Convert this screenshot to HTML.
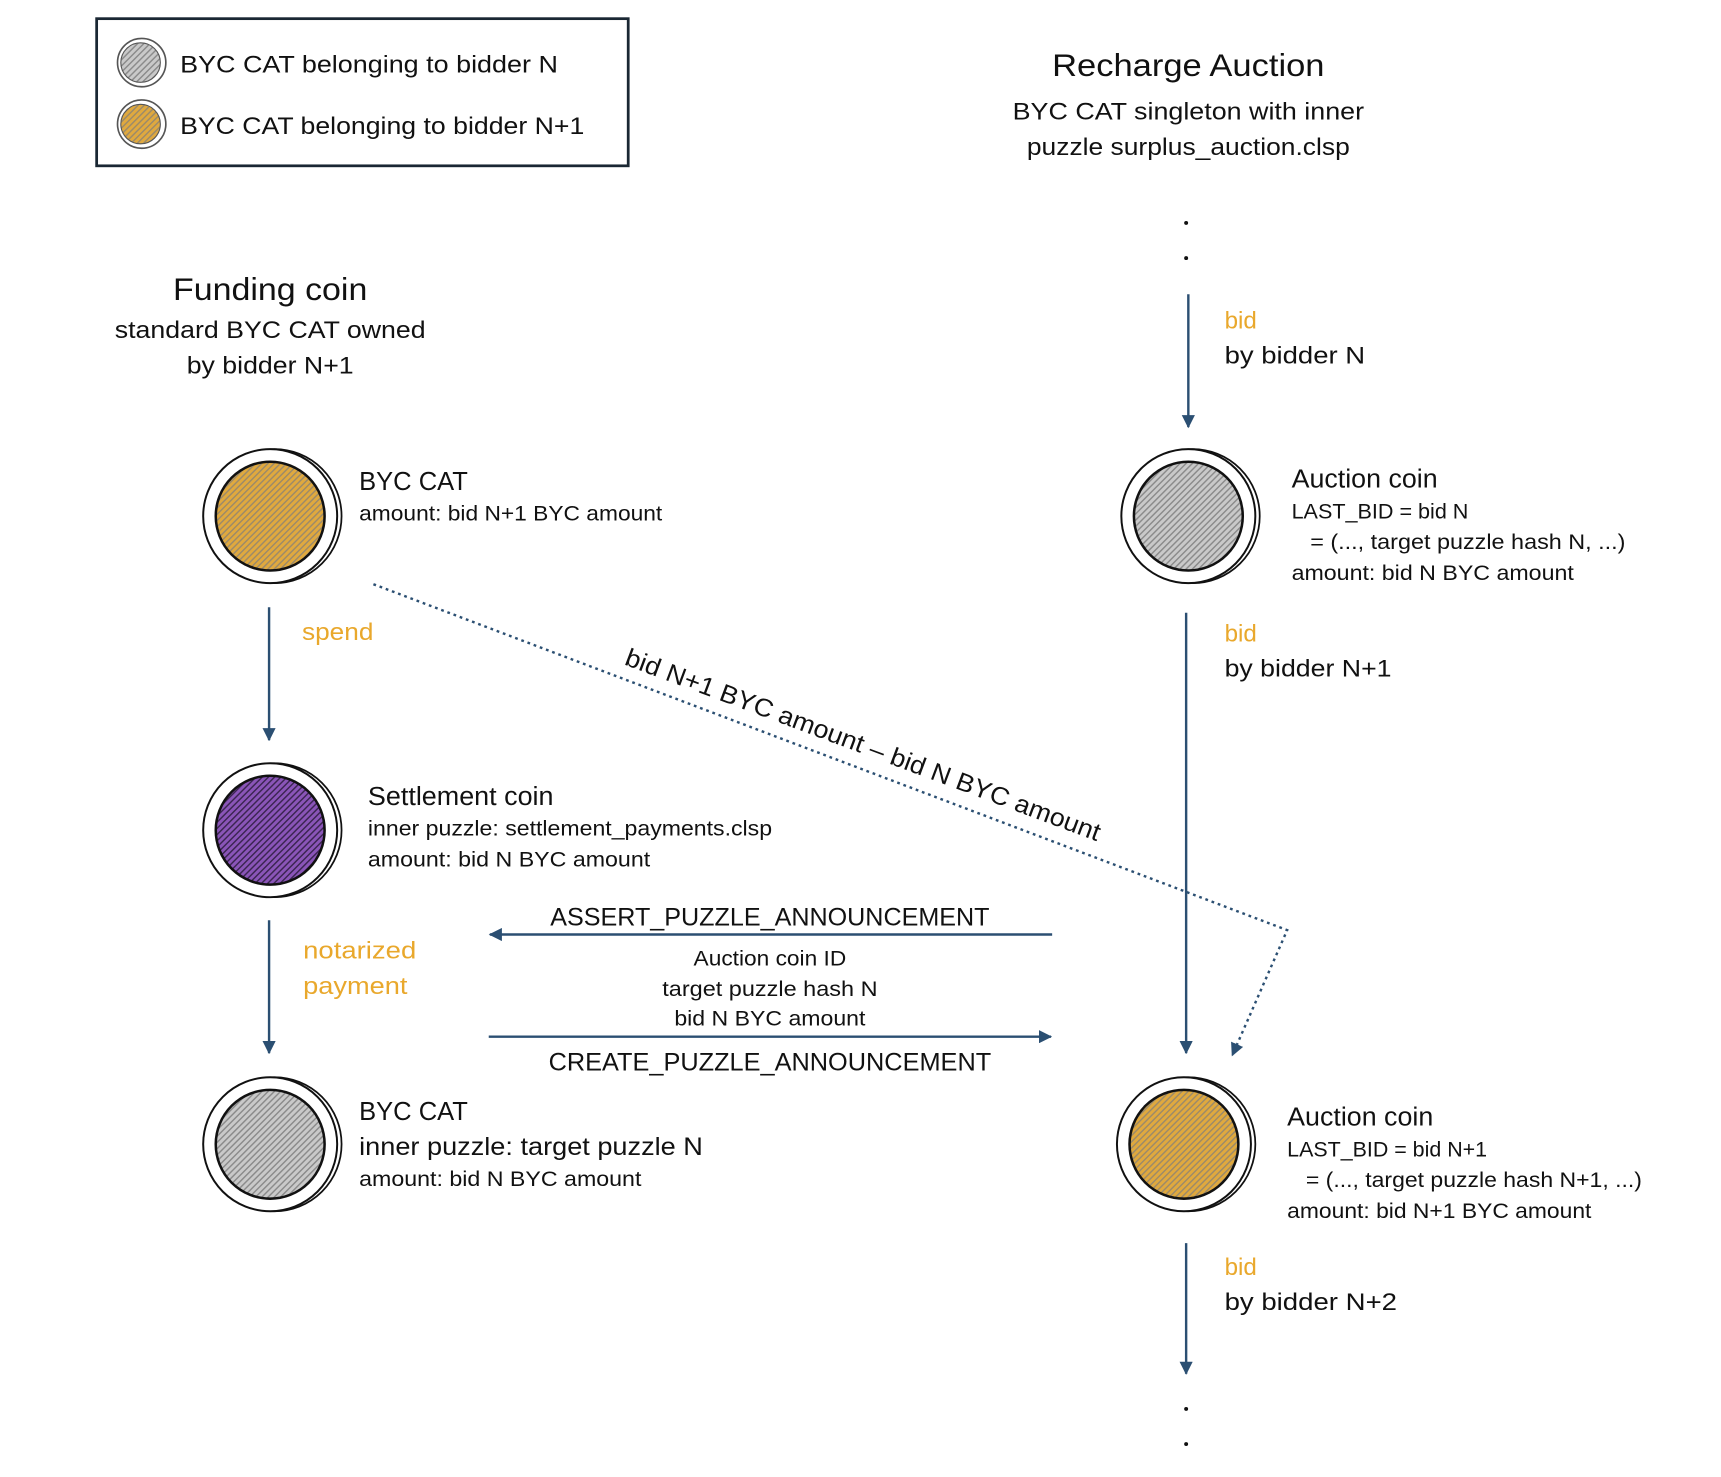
<!DOCTYPE html>
<html><head><meta charset="utf-8"><style>
html,body{margin:0;padding:0;background:#fff;}
svg{display:block;}
text{font-family:"Liberation Sans",sans-serif;fill:#111;}
.o{fill:#e9a82c;}
</style></head><body>
<svg width="1721" height="1477" viewBox="0 0 1567 1345" preserveAspectRatio="none" xmlns="http://www.w3.org/2000/svg">
<defs>
<pattern id="hg" width="4" height="4" patternUnits="userSpaceOnUse" patternTransform="rotate(45)"><rect width="4" height="4" fill="#c9c9c9"/><rect width="1.3" height="4" fill="#8a8a8a"/></pattern>
<pattern id="ho" width="4" height="4" patternUnits="userSpaceOnUse" patternTransform="rotate(45)"><rect width="4" height="4" fill="#e0a93e"/><rect width="1.3" height="4" fill="#9b8a6a"/></pattern>
<pattern id="hp" width="4" height="4" patternUnits="userSpaceOnUse" patternTransform="rotate(45)"><rect width="4" height="4" fill="#8a55b8"/><rect width="1.3" height="4" fill="#3a2450"/></pattern>
<marker id="ar" markerWidth="12" markerHeight="12" refX="11" refY="6" orient="auto" markerUnits="userSpaceOnUse"><path d="M0,0 L12,6 L0,12 z" fill="#2b4f72"/></marker>
<g id="rim">
<circle cx="4" cy="0" r="61" fill="#fff" stroke="#111" stroke-width="1.6"/>
<circle cx="0" cy="0" r="61" fill="#fff" stroke="#111" stroke-width="1.8"/>
<circle cx="0" cy="0" r="50" fill="none" stroke="#111" stroke-width="1.4"/>
</g>
</defs>

<rect x="88" y="17" width="484" height="134" fill="#fff" stroke="#1a2733" stroke-width="2.5"/>
<circle cx="129" cy="57" r="22" fill="#fff" stroke="#555" stroke-width="1.5"/><circle cx="128" cy="57" r="18" fill="url(#hg)" stroke="#555"/>
<circle cx="129" cy="113" r="22" fill="#fff" stroke="#555" stroke-width="1.5"/><circle cx="128" cy="113" r="18" fill="url(#ho)" stroke="#555"/>
<text x="164" y="66" font-size="22" textLength="344" lengthAdjust="spacingAndGlyphs">BYC CAT belonging to bidder N</text>
<text x="164" y="122" font-size="22" textLength="368" lengthAdjust="spacingAndGlyphs">BYC CAT belonging to bidder N+1</text>

<text x="1082" y="69" font-size="29" text-anchor="middle" textLength="248" lengthAdjust="spacingAndGlyphs">Recharge Auction</text>
<text x="1082" y="109" font-size="22" text-anchor="middle" textLength="320" lengthAdjust="spacingAndGlyphs">BYC CAT singleton with inner</text>
<text x="1082" y="141" font-size="22" text-anchor="middle" textLength="294" lengthAdjust="spacingAndGlyphs">puzzle surplus_auction.clsp</text>

<text x="246" y="273" font-size="29" text-anchor="middle" textLength="177" lengthAdjust="spacingAndGlyphs">Funding coin</text>
<text x="246" y="308" font-size="22" text-anchor="middle" textLength="283" lengthAdjust="spacingAndGlyphs">standard BYC CAT owned</text>
<text x="246" y="340" font-size="22" text-anchor="middle" textLength="152" lengthAdjust="spacingAndGlyphs">by bidder N+1</text>

<circle cx="1080" cy="203" r="1.8" fill="#111"/><circle cx="1080" cy="235" r="1.8" fill="#111"/>
<circle cx="1080" cy="1283" r="1.8" fill="#111"/><circle cx="1080" cy="1315" r="1.8" fill="#111"/>

<g stroke="#2b4f72" stroke-width="2.2" fill="none">
<line x1="1082" y1="268" x2="1082" y2="389" marker-end="url(#ar)"/>
<line x1="1080" y1="558" x2="1080" y2="959" marker-end="url(#ar)"/>
<line x1="1080" y1="1132" x2="1080" y2="1251" marker-end="url(#ar)"/>
<line x1="245" y1="553" x2="245" y2="674" marker-end="url(#ar)"/>
<line x1="245" y1="838" x2="245" y2="959" marker-end="url(#ar)"/>
<line x1="958" y1="851" x2="446" y2="851" marker-end="url(#ar)"/>
<line x1="445" y1="944" x2="957" y2="944" marker-end="url(#ar)"/>
<polyline points="340,532 1172,847 1122,961" stroke-dasharray="2.5,3.5" marker-end="url(#ar)"/>
</g>

<text class="o" x="1115" y="299" font-size="22">bid</text>
<text x="1115" y="331" font-size="22" textLength="128" lengthAdjust="spacingAndGlyphs">by bidder N</text>
<text class="o" x="1115" y="584" font-size="22">bid</text>
<text x="1115" y="616" font-size="22" textLength="152" lengthAdjust="spacingAndGlyphs">by bidder N+1</text>
<text class="o" x="1115" y="1161" font-size="22">bid</text>
<text x="1115" y="1193" font-size="22" textLength="157" lengthAdjust="spacingAndGlyphs">by bidder N+2</text>
<text class="o" x="275" y="583" font-size="22" textLength="65" lengthAdjust="spacingAndGlyphs">spend</text>
<text class="o" x="276" y="873" font-size="22" textLength="103" lengthAdjust="spacingAndGlyphs">notarized</text>
<text class="o" x="276" y="905" font-size="22" textLength="95" lengthAdjust="spacingAndGlyphs">payment</text>

<g transform="translate(246,470)"><use href="#rim"/><circle r="49" fill="url(#ho)" stroke="#111" stroke-width="1.2"/></g>
<g transform="translate(246,756)"><use href="#rim"/><circle r="49" fill="url(#hp)" stroke="#111" stroke-width="1.2"/></g>
<g transform="translate(246,1042)"><use href="#rim"/><circle r="49" fill="url(#hg)" stroke="#111" stroke-width="1.2"/></g>
<g transform="translate(1082,470)"><use href="#rim"/><circle r="49" fill="url(#hg)" stroke="#111" stroke-width="1.2"/></g>
<g transform="translate(1078,1042)"><use href="#rim"/><circle r="49" fill="url(#ho)" stroke="#111" stroke-width="1.2"/></g>

<text x="327" y="446" font-size="24" textLength="99" lengthAdjust="spacingAndGlyphs">BYC CAT</text>
<text x="327" y="474" font-size="19" textLength="276" lengthAdjust="spacingAndGlyphs">amount: bid N+1 BYC amount</text>

<text x="335" y="733" font-size="24" textLength="169" lengthAdjust="spacingAndGlyphs">Settlement coin</text>
<text x="335" y="761" font-size="19" textLength="368" lengthAdjust="spacingAndGlyphs">inner puzzle: settlement_payments.clsp</text>
<text x="335" y="789" font-size="19" textLength="257" lengthAdjust="spacingAndGlyphs">amount: bid N BYC amount</text>

<text x="327" y="1020" font-size="24" textLength="99" lengthAdjust="spacingAndGlyphs">BYC CAT</text>
<text x="327" y="1052" font-size="23" textLength="313" lengthAdjust="spacingAndGlyphs">inner puzzle: target puzzle N</text>
<text x="327" y="1080" font-size="19" textLength="257" lengthAdjust="spacingAndGlyphs">amount: bid N BYC amount</text>

<text x="1176" y="444" font-size="24" textLength="133" lengthAdjust="spacingAndGlyphs">Auction coin</text>
<text x="1176" y="472" font-size="19" textLength="161" lengthAdjust="spacingAndGlyphs">LAST_BID = bid N</text>
<text x="1193" y="500" font-size="19" textLength="287" lengthAdjust="spacingAndGlyphs">= (..., target puzzle hash N, ...)</text>
<text x="1176" y="528" font-size="19" textLength="257" lengthAdjust="spacingAndGlyphs">amount: bid N BYC amount</text>

<text x="1172" y="1025" font-size="24" textLength="133" lengthAdjust="spacingAndGlyphs">Auction coin</text>
<text x="1172" y="1053" font-size="19" textLength="182" lengthAdjust="spacingAndGlyphs">LAST_BID = bid N+1</text>
<text x="1189" y="1081" font-size="19" textLength="306" lengthAdjust="spacingAndGlyphs">= (..., target puzzle hash N+1, ...)</text>
<text x="1172" y="1109" font-size="19" textLength="277" lengthAdjust="spacingAndGlyphs">amount: bid N+1 BYC amount</text>

<text x="701" y="843" font-size="23" text-anchor="middle" textLength="400" lengthAdjust="spacingAndGlyphs">ASSERT_PUZZLE_ANNOUNCEMENT</text>
<text x="701" y="879" font-size="19" text-anchor="middle" textLength="139" lengthAdjust="spacingAndGlyphs">Auction coin ID</text>
<text x="701" y="907" font-size="19" text-anchor="middle" textLength="196" lengthAdjust="spacingAndGlyphs">target puzzle hash N</text>
<text x="701" y="934" font-size="19" text-anchor="middle" textLength="174" lengthAdjust="spacingAndGlyphs">bid N BYC amount</text>
<text x="701" y="975" font-size="23" text-anchor="middle" textLength="403" lengthAdjust="spacingAndGlyphs">CREATE_PUZZLE_ANNOUNCEMENT</text>

<text x="786" y="686" font-size="23" text-anchor="middle" transform="rotate(20.5 786 678)" textLength="460" lengthAdjust="spacingAndGlyphs">bid N+1 BYC amount – bid N BYC amount</text>
</svg>
</body></html>
